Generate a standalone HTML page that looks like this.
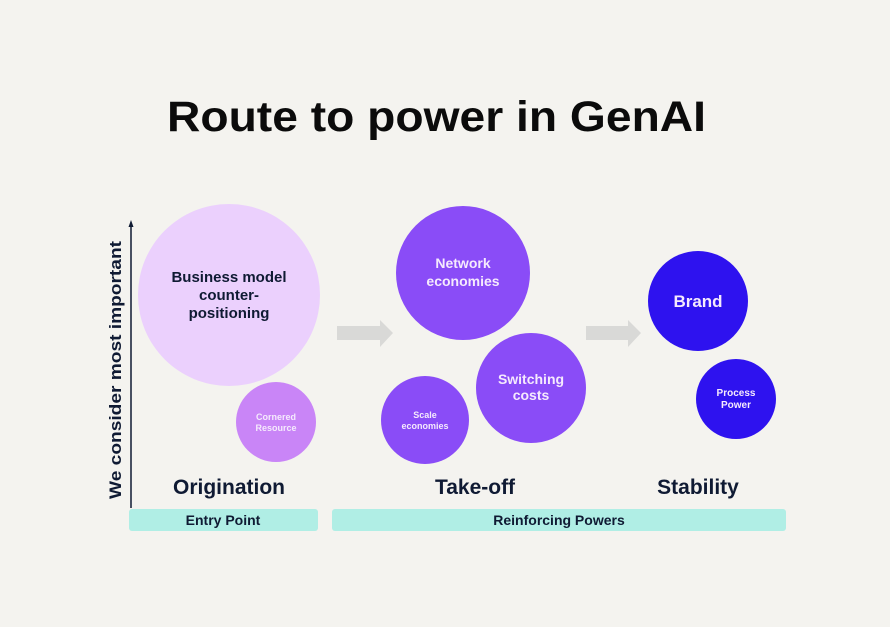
<!DOCTYPE html>
<html><head><meta charset="utf-8"><style>
html,body{margin:0;padding:0;background:#f4f3ef;}
svg{display:block;font-family:"Liberation Sans",Arial,sans-serif;font-weight:bold;}
</style></head><body>
<svg width="890" height="627" viewBox="0 0 890 627" xmlns="http://www.w3.org/2000/svg">
<rect width="890" height="627" fill="#f4f3ef"/>
<text x="167" y="131" font-size="43" fill="#0b0b0b" textLength="539" lengthAdjust="spacingAndGlyphs">Route to power in GenAI</text>

<!-- axis -->
<line x1="131" y1="226" x2="131" y2="508" stroke="#0f1a33" stroke-width="1.5"/>
<polygon points="131,220 128.5,227 133.5,227" fill="#0f1a33"/>
<text transform="translate(121,370) rotate(-90)" text-anchor="middle" font-size="17" fill="#0f1a33" textLength="258" lengthAdjust="spacingAndGlyphs">We consider most important</text>

<!-- arrows -->
<polygon points="337,326 380,326 380,320 393,333 380,347 380,340 337,340" fill="#d9d9d7"/>
<polygon points="586,326 628,326 628,320 641,333 628,347 628,340 586,340" fill="#d9d9d7"/>

<!-- circles -->
<circle cx="229" cy="295" r="91" fill="#ebd0fd"/>
<circle cx="276" cy="422" r="40" fill="#c985f7"/>
<circle cx="463" cy="273" r="67" fill="#8a4cf7"/>
<circle cx="531" cy="388" r="55" fill="#8a4cf7"/>
<circle cx="425" cy="420" r="44" fill="#8a4cf7"/>
<circle cx="698" cy="301" r="50" fill="#2e12ef"/>
<circle cx="736" cy="399" r="40" fill="#2e12ef"/>

<g text-anchor="middle">
<text x="229" y="282" font-size="15" fill="#0f1a33">Business model</text>
<text x="229" y="300" font-size="15" fill="#0f1a33">counter-</text>
<text x="229" y="318" font-size="15" fill="#0f1a33">positioning</text>
<text x="276" y="420" font-size="9" fill="#f5eafd">Cornered</text>
<text x="276" y="431" font-size="9" fill="#f5eafd">Resource</text>
<text x="463" y="268" font-size="14" fill="#f5eafd">Network</text>
<text x="463" y="286" font-size="14" fill="#f5eafd">economies</text>
<text x="531" y="384" font-size="14" fill="#f5eafd">Switching</text>
<text x="531" y="400" font-size="14" fill="#f5eafd">costs</text>
<text x="425" y="418" font-size="9" fill="#f5eafd">Scale</text>
<text x="425" y="429" font-size="9" fill="#f5eafd">economies</text>
<text x="698" y="307" font-size="17" fill="#f5eafd">Brand</text>
<text x="736" y="396" font-size="10" fill="#f5eafd">Process</text>
<text x="736" y="408" font-size="10" fill="#f5eafd">Power</text>

<text x="229" y="494" font-size="21" fill="#0f1a33">Origination</text>
<text x="475" y="494" font-size="21" fill="#0f1a33">Take-off</text>
<text x="698" y="494" font-size="21" fill="#0f1a33">Stability</text>
</g>

<rect x="129" y="509" width="189" height="22" rx="3" fill="#b0eee5"/>
<rect x="332" y="509" width="454" height="22" rx="3" fill="#b0eee5"/>
<text x="223" y="525" text-anchor="middle" font-size="14" fill="#0f1a33">Entry Point</text>
<text x="559" y="525" text-anchor="middle" font-size="14" fill="#0f1a33">Reinforcing Powers</text>
</svg>
</body></html>
